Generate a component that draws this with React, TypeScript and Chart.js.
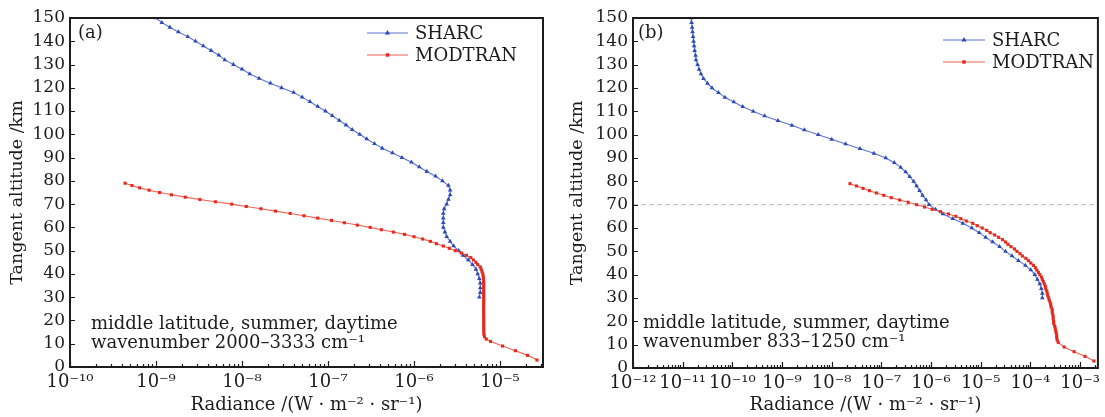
import { useEffect, useRef } from 'react';
import { Chart, registerables } from 'chart.js';

Chart.register(...registerables);

// Tangent altitudes (km) of the SHARC profiles, 2 km spacing
const sharcAltitudeKm = [
  150, 148, 146, 144, 142, 140, 138, 136, 134, 132,
  130, 128, 126, 124, 122, 120, 118, 116, 114, 112,
  110, 108, 106, 104, 102, 100, 98, 96, 94, 92,
  90, 88, 86, 84, 82, 80, 78, 76, 74, 72,
  70, 68, 66, 64, 62, 60, 58, 56, 54, 52,
  50, 48, 46, 44, 42, 40, 38, 36, 34, 32,
  30,
];

// Tangent altitudes (km) of the MODTRAN profiles
const modtranAltitudeKm = [
  79, 78, 77, 76, 75, 74, 73, 72, 71, 70,
  69, 68, 67, 66, 65, 64, 63, 62, 61, 60,
  59, 58, 57, 56, 55, 54, 53, 52, 51, 50,
  49, 48, 47, 46, 45, 44, 43, 42, 41, 40,
  39, 38, 37, 36, 35, 34, 33, 32, 31, 30,
  29, 28, 27, 26, 25, 24, 23, 22, 21, 20,
  19, 18, 17, 16, 15, 14, 13, 12,
  11, 9, 7, 5, 3,
];

// Radiance, W·m⁻²·sr⁻¹ — band 2000–3333 cm⁻¹
const sharcRadianceA = [
  1.00e-9, 1.17e-9, 1.45e-9, 1.82e-9, 2.34e-9, 2.88e-9, 3.55e-9, 4.37e-9, 5.37e-9, 6.31e-9,
  7.94e-9, 1.00e-8, 1.23e-8, 1.58e-8, 2.14e-8, 2.88e-8, 3.98e-8, 5.01e-8, 6.17e-8, 7.59e-8,
  9.33e-8, 1.12e-7, 1.35e-7, 1.62e-7, 1.91e-7, 2.34e-7, 2.82e-7, 3.47e-7, 4.27e-7, 5.62e-7,
  7.24e-7, 9.33e-7, 1.15e-6, 1.41e-6, 1.78e-6, 2.14e-6, 2.51e-6, 2.63e-6, 2.63e-6, 2.51e-6,
  2.40e-6, 2.24e-6, 2.19e-6, 2.19e-6, 2.19e-6, 2.19e-6, 2.29e-6, 2.40e-6, 2.63e-6, 2.88e-6,
  3.31e-6, 3.72e-6, 4.27e-6, 4.79e-6, 5.25e-6, 5.50e-6, 5.75e-6, 5.89e-6, 5.89e-6, 5.89e-6,
  5.75e-6,
];

const modtranRadianceA = [
  4.37e-10, 5.25e-10, 6.46e-10, 8.32e-10, 1.10e-9, 1.51e-9, 2.19e-9, 3.24e-9, 4.90e-9, 7.59e-9,
  1.12e-8, 1.66e-8, 2.45e-8, 3.63e-8, 5.25e-8, 7.59e-8, 1.10e-7, 1.55e-7, 2.19e-7, 3.09e-7,
  4.17e-7, 5.75e-7, 7.76e-7, 1.00e-6, 1.26e-6, 1.55e-6, 1.82e-6, 2.19e-6, 2.57e-6, 3.02e-6,
  3.55e-6, 4.07e-6, 4.57e-6, 4.90e-6, 5.25e-6, 5.50e-6, 5.89e-6, 6.03e-6, 6.17e-6, 6.31e-6,
  6.38e-6, 6.42e-6, 6.45e-6, 6.46e-6, 6.46e-6, 6.46e-6, 6.46e-6, 6.46e-6, 6.46e-6, 6.46e-6,
  6.46e-6, 6.46e-6, 6.45e-6, 6.45e-6, 6.45e-6, 6.45e-6, 6.45e-6, 6.45e-6, 6.46e-6, 6.46e-6,
  6.46e-6, 6.46e-6, 6.47e-6, 6.47e-6, 6.48e-6, 6.50e-6, 6.61e-6, 6.92e-6,
  7.76e-6, 1.07e-5, 1.51e-5, 2.09e-5, 2.69e-5,
];

// Radiance, W·m⁻²·sr⁻¹ — band 833–1250 cm⁻¹
const sharcRadianceB = [
  1.48e-11, 1.51e-11, 1.55e-11, 1.58e-11, 1.62e-11, 1.66e-11, 1.70e-11, 1.74e-11, 1.82e-11, 1.86e-11,
  2.00e-11, 2.14e-11, 2.34e-11, 2.63e-11, 3.16e-11, 3.89e-11, 5.25e-11, 7.08e-11, 1.07e-10, 1.62e-10,
  2.63e-10, 4.47e-10, 8.32e-10, 1.58e-9, 2.82e-9, 5.37e-9, 1.00e-8, 1.91e-8, 3.72e-8, 7.08e-8,
  1.23e-7, 1.82e-7, 2.45e-7, 3.09e-7, 3.72e-7, 4.47e-7, 5.13e-7, 5.89e-7, 6.76e-7, 7.94e-7,
  9.12e-7, 1.23e-6, 1.74e-6, 2.75e-6, 4.37e-6, 6.61e-6, 9.33e-6, 1.26e-5, 1.74e-5, 2.40e-5,
  3.16e-5, 4.27e-5, 5.75e-5, 7.94e-5, 1.02e-4, 1.23e-4, 1.38e-4, 1.55e-4, 1.66e-4, 1.74e-4,
  1.74e-4,
];

const modtranRadianceB = [
  2.34e-8, 3.16e-8, 4.27e-8, 5.75e-8, 7.94e-8, 1.12e-7, 1.58e-7, 2.34e-7, 3.47e-7, 5.13e-7,
  7.41e-7, 1.05e-6, 1.55e-6, 2.24e-6, 3.16e-6, 3.98e-6, 5.13e-6, 6.92e-6, 8.51e-6, 1.07e-5,
  1.32e-5, 1.55e-5, 1.91e-5, 2.29e-5, 2.75e-5, 3.16e-5, 3.55e-5, 4.07e-5, 4.79e-5, 5.37e-5,
  6.17e-5, 6.92e-5, 8.13e-5, 9.12e-5, 1.02e-4, 1.15e-4, 1.26e-4, 1.35e-4, 1.45e-4, 1.55e-4,
  1.66e-4, 1.74e-4, 1.82e-4, 1.91e-4, 2.00e-4, 2.04e-4, 2.14e-4, 2.19e-4, 2.24e-4, 2.34e-4,
  2.40e-4, 2.51e-4, 2.57e-4, 2.63e-4, 2.75e-4, 2.75e-4, 2.82e-4, 2.88e-4, 2.88e-4, 2.95e-4,
  2.95e-4, 3.09e-4, 3.16e-4, 3.24e-4, 3.31e-4, 3.39e-4, 3.39e-4, 3.47e-4,
  3.63e-4, 4.79e-4, 7.59e-4, 1.26e-3, 1.91e-3,
];

const altitudeTicks = [0, 10, 20, 30, 40, 50, 60, 70, 80, 90, 100, 110, 120, 130, 140, 150];
const decadeTicksA = [1e-10, 1e-9, 1e-8, 1e-7, 1e-6, 1e-5];
const decadeTicksB = [1e-12, 1e-11, 1e-10, 1e-9, 1e-8, 1e-7, 1e-6, 1e-5, 1e-4, 1e-3];
const radianceRangeA = [1e-10, 3.16e-5];
const radianceRangeB = [1e-12, 2.29e-3];
const referenceAltitudeKm = 70;

const seriesNames = ['SHARC', 'MODTRAN'];
const panelTags = ['(a)', '(b)'];
const notesA = ['middle latitude, summer, daytime', 'wavenumber 2000–3333 cm⁻¹'];
const notesB = ['middle latitude, summer, daytime', 'wavenumber 833–1250 cm⁻¹'];
const xAxisTitle = 'Radiance /(W · m⁻² · sr⁻¹)';
const yAxisTitle = 'Tangent altitude /km';

const INK = '#1c1c1c';
const FONT = '"DejaVu Serif", "Liberation Serif", serif';
const SHARC_LINE = '#5a74cf';
const SHARC_POINT = '#2c49b5';
const MODTRAN_LINE = '#f2604f';
const MODTRAN_POINT = '#e42a1f';

const SUP: Record<string, string> = {
  '-': '⁻', '0': '⁰', '1': '¹', '2': '²', '3': '³', '4': '⁴',
  '5': '⁵', '6': '⁶', '7': '⁷', '8': '⁸', '9': '⁹',
};
function powerLabel(v: number): string {
  const e = Math.round(Math.log10(v));
  return '10' + String(e).split('').map((c) => SUP[c]).join('');
}

function drawMarker(ctx: CanvasRenderingContext2D, kind: string, x: number, y: number, r: number) {
  ctx.beginPath();
  if (kind === 'triangle') {
    ctx.moveTo(x, y - r * 1.15);
    ctx.lineTo(x + r, y + r * 0.6);
    ctx.lineTo(x - r, y + r * 0.6);
    ctx.closePath();
  } else {
    ctx.rect(x - r * 0.75, y - r * 0.75, r * 1.5, r * 1.5);
  }
  ctx.fill();
}

// Frame, inward ticks, legend, panel tag and notes
const decorPlugin = {
  id: 'decor',
  afterDraw(chart: any, _args: any, opts: any) {
    const { ctx, chartArea: a } = chart;
    const xs = chart.scales.x;
    const ys = chart.scales.y;
    ctx.save();

    ctx.strokeStyle = INK;
    ctx.lineWidth = 1.2;
    ctx.beginPath();
    for (const v of altitudeTicks) {
      const py = Math.round(ys.getPixelForValue(v)) + 0.5;
      ctx.moveTo(a.left, py);
      ctx.lineTo(a.left + 5, py);
    }
    const lo = Math.floor(Math.log10(xs.min));
    const hi = Math.ceil(Math.log10(xs.max));
    for (let e = lo; e <= hi; e++) {
      for (let m = 1; m <= 9; m++) {
        const v = m * Math.pow(10, e);
        if (v < xs.min * 0.999 || v > xs.max * 1.001) continue;
        const px = Math.round(xs.getPixelForValue(v)) + 0.5;
        ctx.moveTo(px, a.bottom);
        ctx.lineTo(px, a.bottom - (m === 1 ? 6 : 3));
      }
    }
    ctx.stroke();

    ctx.lineWidth = 2;
    ctx.strokeRect(a.left, a.top, a.right - a.left, a.bottom - a.top);

    // legend
    const lg = opts.legend;
    const styles = [
      { line: SHARC_LINE, point: SHARC_POINT, kind: 'triangle', r: 2.6 },
      { line: MODTRAN_LINE, point: MODTRAN_POINT, kind: 'rect', r: 2.3 },
    ];
    ctx.font = `18px ${FONT}`;
    ctx.textBaseline = 'middle';
    ctx.textAlign = 'left';
    seriesNames.forEach((name, i) => {
      const y = lg.y + i * lg.dy;
      const s = styles[i];
      ctx.strokeStyle = s.line;
      ctx.lineWidth = 1.2;
      ctx.beginPath();
      ctx.moveTo(lg.x0, y);
      ctx.lineTo(lg.x1, y);
      ctx.stroke();
      ctx.fillStyle = s.point;
      drawMarker(ctx, s.kind, (lg.x0 + lg.x1) / 2, y, s.r);
      ctx.fillStyle = INK;
      ctx.fillText(name, lg.xt, y + 1);
    });

    // panel tag
    ctx.fillStyle = INK;
    ctx.font = `18px ${FONT}`;
    ctx.fillText(opts.tag, opts.tagX, opts.tagY);

    // notes
    ctx.font = `18px ${FONT}`;
    ctx.textBaseline = 'alphabetic';
    opts.notes.forEach((t: string, i: number) => {
      ctx.fillText(t, opts.noteX, opts.noteY + i * opts.noteDy);
    });

    ctx.restore();
  },
};

type PanelSpec = {
  canvasLeft: number;
  canvasWidth: number;
  plotLeft: number;
  plotRight: number;
  plotBottom: number;
  range: number[];
  decades: number[];
  sharc: number[];
  modtran: number[];
  tag: string;
  notes: string[];
  noteX: number;
  noteY: number;
  legend: { x0: number; x1: number; xt: number; y: number; dy: number };
  reference: boolean;
};

const CANVAS_H = 417;
const PLOT_TOP = 18;

const panels: PanelSpec[] = [
  {
    canvasLeft: 0, canvasWidth: 552, plotLeft: 70, plotRight: 543, plotBottom: 367,
    range: radianceRangeA, decades: decadeTicksA,
    sharc: sharcRadianceA, modtran: modtranRadianceA,
    tag: panelTags[0], notes: notesA, noteX: 91, noteY: 329,
    legend: { x0: 367, x1: 408, xt: 415, y: 33, dy: 22 },
    reference: false,
  },
  {
    canvasLeft: 560, canvasWidth: 545, plotLeft: 73, plotRight: 541, plotBottom: 368,
    range: radianceRangeB, decades: decadeTicksB,
    sharc: sharcRadianceB, modtran: modtranRadianceB,
    tag: panelTags[1], notes: notesB, noteX: 83, noteY: 328,
    legend: { x0: 383, x1: 425, xt: 432, y: 40, dy: 22 },
    reference: true,
  },
];

function Panel({ spec }: { spec: PanelSpec }) {
  const ref = useRef<HTMLCanvasElement>(null);

  useEffect(() => {
    if (!ref.current) return;
    const datasets: any[] = [
      {
        label: seriesNames[1],
        data: modtranAltitudeKm.map((h, i) => ({ x: spec.modtran[i], y: h })),
        showLine: true,
        borderColor: MODTRAN_LINE,
        borderWidth: 1.1,
        pointStyle: 'rect',
        pointRadius: 2.2,
        pointBackgroundColor: MODTRAN_POINT,
        pointBorderColor: MODTRAN_POINT,
        pointBorderWidth: 0,
        order: 1,
      },
      {
        label: seriesNames[0],
        data: sharcAltitudeKm.map((h, i) => ({ x: spec.sharc[i], y: h })),
        showLine: true,
        borderColor: SHARC_LINE,
        borderWidth: 1.1,
        pointStyle: 'triangle',
        pointRadius: 2.7,
        pointBackgroundColor: SHARC_POINT,
        pointBorderColor: SHARC_POINT,
        pointBorderWidth: 0,
        order: 2,
      },
    ];
    if (spec.reference) {
      datasets.push({
        label: 'reference',
        data: [
          { x: spec.range[0], y: referenceAltitudeKm },
          { x: spec.range[1], y: referenceAltitudeKm },
        ],
        showLine: true,
        borderColor: '#c8c8c8',
        borderWidth: 1.3,
        borderDash: [5, 3],
        pointRadius: 0,
        order: 3,
      });
    }

    const chart = new Chart(ref.current, {
      type: 'scatter',
      data: { datasets },
      options: {
        responsive: false,
        animation: false,
        devicePixelRatio: 1,
        events: [],
        layout: {
          padding: { left: 0, top: PLOT_TOP, right: spec.canvasWidth - spec.plotRight, bottom: 0 },
        },
        plugins: {
          legend: { display: false },
          tooltip: { enabled: false },
          decor: {
            tag: spec.tag, tagX: 78, tagY: 33,
            notes: spec.notes, noteX: spec.noteX, noteY: spec.noteY, noteDy: 19,
            legend: spec.legend,
          },
        } as any,
        scales: {
          x: {
            type: 'logarithmic',
            position: 'bottom',
            min: spec.range[0],
            max: spec.range[1],
            grid: { display: false, drawTicks: false },
            border: { display: false },
            afterBuildTicks: (scale: any) => {
              scale.ticks = spec.decades.map((v) => ({ value: v }));
            },
            afterFit: (scale: any) => {
              scale.height = CANVAS_H - spec.plotBottom;
            },
            ticks: {
              autoSkip: false,
              maxRotation: 0,
              padding: 5,
              color: INK,
              font: { family: FONT, size: 18 },
              callback: (v: any) => powerLabel(Number(v)),
            },
            title: {
              display: true,
              text: xAxisTitle,
              color: INK,
              font: { family: FONT, size: 18 },
              padding: { top: 0, bottom: 1 },
            },
          },
          y: {
            type: 'linear',
            position: 'left',
            min: 0,
            max: 150,
            grid: { display: false, drawTicks: false },
            border: { display: false },
            afterFit: (scale: any) => {
              scale.width = spec.plotLeft;
            },
            ticks: {
              stepSize: 10,
              autoSkip: false,
              padding: 5,
              color: INK,
              font: { family: FONT, size: 17 },
            },
            title: {
              display: true,
              text: yAxisTitle,
              color: INK,
              font: { family: FONT, size: 17.5 },
              padding: { top: 7, bottom: 0 },
            },
          },
        },
      },
      plugins: [decorPlugin],
    });
    return () => chart.destroy();
  }, [spec]);

  return (
    <canvas
      ref={ref}
      width={spec.canvasWidth}
      height={CANVAS_H}
      style={{ position: 'absolute', left: spec.canvasLeft, top: 0, width: spec.canvasWidth, height: CANVAS_H }}
    />
  );
}

export default function App() {
  return (
    <div style={{ position: 'absolute', left: 0, top: 0, width: 1105, height: CANVAS_H, background: '#fff' }}>
      {panels.map((p) => (
        <Panel key={p.tag} spec={p} />
      ))}
    </div>
  );
}
